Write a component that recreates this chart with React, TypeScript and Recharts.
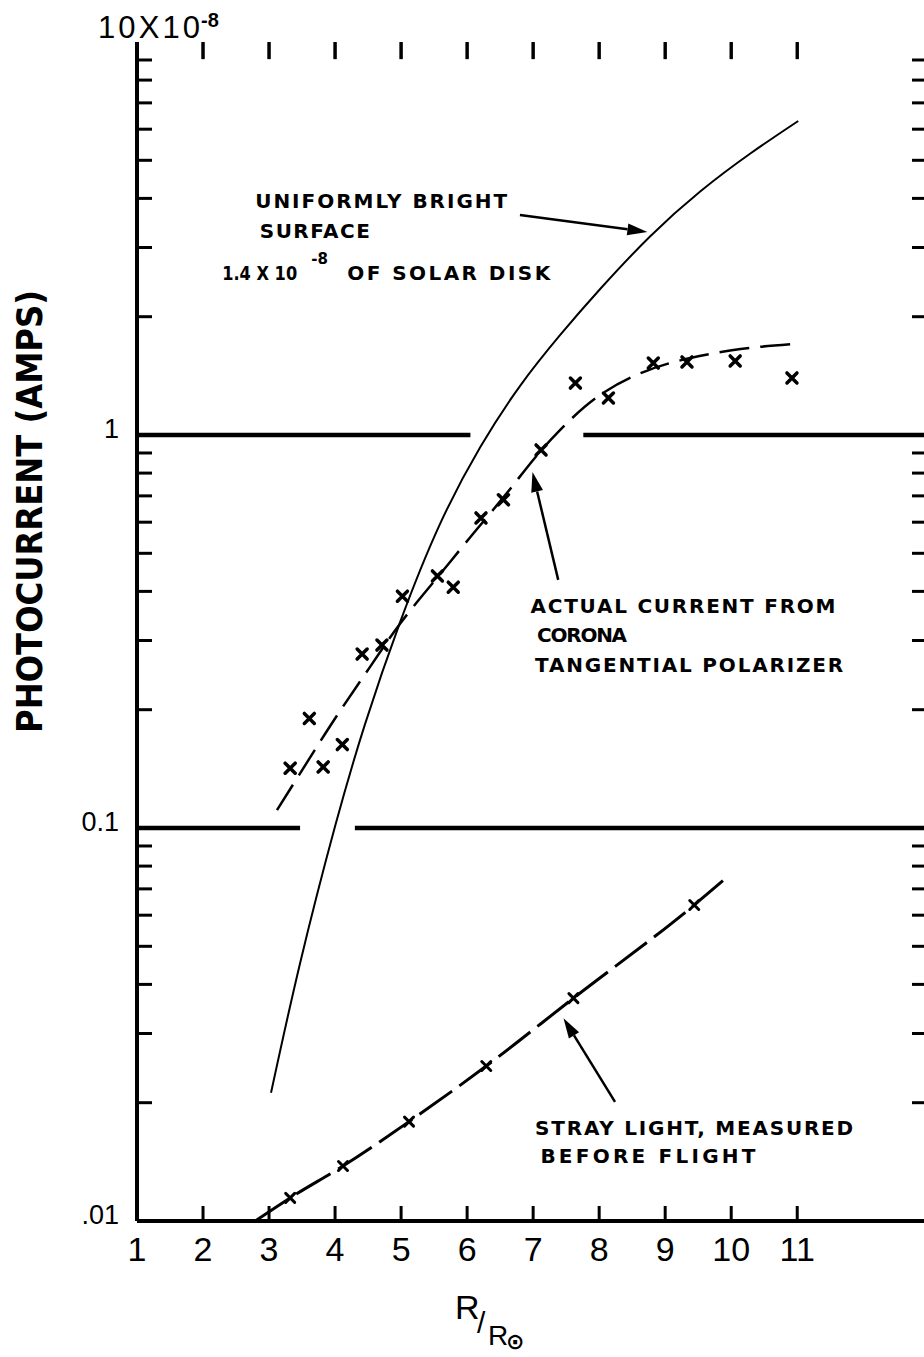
import React from 'react'
import {
  ComposedChart, Line, Scatter, XAxis, YAxis, ReferenceLine, ReferenceDot,
} from 'recharts'

const W = 924
const H = 1357
const M_TOP = 42
const M_BOTTOM = 76
const X_AXIS_H = 60
const PLOT_H = H - M_TOP - M_BOTTOM - X_AXIS_H
const X_MAX = 12.92
const Y_MIN = 0.01
const Y_MAX = 10
const Y_TOP = 9.99

const xTicks = [1, 2, 3, 4, 5, 6, 7, 8, 9, 10, 11]
const xInner = [2, 3, 4, 5, 6, 7, 8, 9, 10, 11]
const yTicks = [0.01, 0.1, 1, 10]
const yInner = [
  0.02, 0.03, 0.04, 0.05, 0.06, 0.07, 0.08, 0.09,
  0.2, 0.3, 0.4, 0.5, 0.6, 0.7, 0.8, 0.9,
  2, 3, 4, 5, 6, 7, 8, 9,
]

// uniformly bright surface, 1.4 x 10^-8 of solar disk
const brightR = [3.03, 3.47, 4.0, 4.455, 4.985, 5.59, 6.2, 6.8, 7.41, 8.015, 8.77, 9.53, 10.29, 11.015]
const brightI = [0.0212, 0.0453, 0.101, 0.184, 0.334, 0.594, 0.932, 1.332, 1.797, 2.352, 3.2, 4.165, 5.203, 6.295]

// actual current from corona, tangential polarizer (measured x's)
const coronaR = [3.32, 3.61, 3.82, 4.11, 4.41, 4.71, 5.02, 5.55, 5.79, 6.21, 6.55, 7.12, 7.64, 8.14, 8.82, 9.33, 10.06, 10.92]
const coronaI = [0.142, 0.19, 0.143, 0.163, 0.277, 0.292, 0.389, 0.438, 0.41, 0.615, 0.684, 0.916, 1.356, 1.242, 1.524, 1.534, 1.543, 1.397]

// dashed curve drawn through them
const coronaFitR = [3.12, 3.62, 4.08, 4.53, 4.99, 5.52, 6.05, 6.58, 7.0, 7.41, 7.97, 8.67, 9.38, 10.14, 10.94]
const coronaFitI = [0.111, 0.151, 0.199, 0.257, 0.332, 0.428, 0.55, 0.704, 0.864, 1.03, 1.249, 1.446, 1.57, 1.655, 1.704]

// stray light, measured before flight
const strayR = [3.32, 4.12, 5.12, 6.29, 7.61, 9.44]
const strayI = [0.01145, 0.0138, 0.0179, 0.0248, 0.0369, 0.0637]
const strayLineR = [2.79, 3.32, 4.12, 5.12, 6.29, 7.61, 9.44, 9.89]
const strayLineI = [0.01, 0.01145, 0.0138, 0.0179, 0.0248, 0.0369, 0.0637, 0.0738]

// heavy rules at 1 and 0.1, broken where the curves cross
const ruleLevels = [1, 0.1]
const ruleGaps = [[6.05, 7.76], [3.47, 4.3]]

const rows = (xs: number[], ys: number[]) => xs.map((x, i) => ({ x, y: ys[i] }))

const bright = rows(brightR, brightI)
const corona = rows(coronaR, coronaI)
const coronaFit = rows(coronaFitR, coronaFitI)
const stray = rows(strayR, strayI)
const strayLine = rows(strayLineR, strayLineI)

const arrows = [
  { from: [6.8, 3.63], to: [8.73, 3.285] },
  { from: [7.38, 0.428], to: [6.99, 0.805] },
  { from: [8.24, 0.0201], to: [7.46, 0.0328] },
]

const notes = [
  { r: 2.79, i: 3.78, text: 'UNIFORMLY BRIGHT', len: 252 },
  { r: 2.86, i: 3.17, text: 'SURFACE', len: 110 },
  { r: 6.96, i: 0.352, text: 'ACTUAL CURRENT FROM', len: 305 },
  { r: 7.06, i: 0.297, text: 'CORONA', len: 90 },
  { r: 7.03, i: 0.249, text: 'TANGENTIAL POLARIZER', len: 308 },
  { r: 7.03, i: 0.01655, text: 'STRAY LIGHT, MEASURED', len: 318 },
  { r: 7.11, i: 0.01405, text: 'BEFORE FLIGHT', len: 215 },
]

const LETTER = '"DejaVu Sans", sans-serif'
const DIGIT = '"Liberation Sans", Arial, sans-serif'

const NoTick = () => <g />

const cross = (s: number, sw: number) => (p: any) => {
  const { cx, cy } = p
  if (cx == null || cy == null) return <g />
  return (
    <path
      d={`M${cx - s},${cy - s}L${cx + s},${cy + s}M${cx + s},${cy - s}L${cx - s},${cy + s}`}
      stroke="#000"
      strokeWidth={sw}
      strokeLinecap="round"
    />
  )
}

const Arrow = (p: any) => {
  const { x1, y1, x2, y2 } = p
  const a = Math.atan2(y2 - y1, x2 - x1)
  const L = 20
  const w = 6
  const bx = x2 - L * Math.cos(a)
  const by = y2 - L * Math.sin(a)
  const s = Math.sin(a)
  const c = Math.cos(a)
  const pts = `${x2},${y2} ${bx + w * s},${by - w * c} ${bx - w * s},${by + w * c}`
  return (
    <g>
      <line x1={x1} y1={y1} x2={bx} y2={by} stroke="#000" strokeWidth={2.5} />
      <polygon points={pts} fill="#000" />
    </g>
  )
}

// tick pointing down from the top frame
const topTick = (p: any) => {
  const { cx, cy } = p
  if (cx == null || cy == null || Number.isNaN(cy)) return <g />
  return <line x1={cx} y1={cy} x2={cx} y2={cy + 17} stroke="#000" strokeWidth={3} />
}

// tick pointing up from the bottom frame, with its partner on the top frame
const bottomTick = (p: any) => {
  const { cx, cy } = p
  if (cx == null || cy == null || Number.isNaN(cy)) return <g />
  const top = cy - PLOT_H
  return (
    <g stroke="#000" strokeWidth={3}>
      <line x1={cx} y1={cy} x2={cx} y2={cy - 15} />
      <line x1={cx} y1={top} x2={cx} y2={top + 17} />
    </g>
  )
}

const YTick = (props: any) => {
  const { x, y, payload } = props
  const v = payload.value
  if (v === 10) {
    return (
      <g fontFamily={DIGIT} fill="#000">
        <text x={x - 21} y={y - 4} fontSize={31} textLength={102} lengthAdjust="spacing">10X10</text>
        <text x={x + 82} y={y - 15} fontSize={20} fontWeight="bold">-8</text>
      </g>
    )
  }
  const label = v === 1 ? '1' : v === 0.1 ? '0.1' : '.01'
  return (
    <text x={x} y={y} dy={-6} textAnchor="end" dominantBaseline="central" fontFamily={DIGIT} fontSize={27} fill="#000">
      {label}
    </text>
  )
}

const YTitle = (props: any) => {
  const vb = props.viewBox || { x: 8, y: 42, width: 129, height: 1179 }
  const x = vb.x + 34
  const y = vb.y + vb.height / 2 - 120
  return (
    <text
      x={x}
      y={y}
      transform={`rotate(-90, ${x}, ${y})`}
      textAnchor="middle"
      fontFamily={LETTER}
      fontWeight="bold"
      fontSize={36}
      textLength={443}
      lengthAdjust="spacingAndGlyphs"
      fill="#000"
    >
      PHOTOCURRENT (AMPS)
    </text>
  )
}

const XTitle = (props: any) => {
  const vb = props.viewBox || { x: 137, y: 1221, width: 787, height: 60 }
  return (
    <g fontFamily={DIGIT} fill="#000">
      <text x={vb.x + 318} y={vb.y + 98} fontSize={34}>R</text>
      <text x={vb.x + 340} y={vb.y + 112} fontSize={30}>/</text>
      <text x={vb.x + 351} y={vb.y + 124} fontSize={28}>R</text>
      <text x={vb.x + 369} y={vb.y + 128} fontSize={22} fontWeight="bold" fontFamily={LETTER}>⊙</text>
    </g>
  )
}

const note = (text: string, len: number) => (p: any) => (
  <text
    x={p.cx}
    y={p.cy}
    fontFamily={LETTER}
    fontWeight="bold"
    fontSize={20}
    textLength={len}
    lengthAdjust="spacing"
    fill="#000"
  >
    {text}
  </text>
)

const disk = (p: any) => (
  <g fontFamily={LETTER} fontWeight="bold" fill="#000">
    <text x={p.cx} y={p.cy} fontSize={20} textLength={75} lengthAdjust="spacingAndGlyphs">1.4 X 10</text>
    <text x={p.cx + 89} y={p.cy - 16} fontSize={15}>-8</text>
    <text x={p.cx + 125} y={p.cy} fontSize={20} textLength={203} lengthAdjust="spacing">OF SOLAR DISK</text>
  </g>
)

export default function App() {
  const segs: { y: number; a: number; b: number }[] = []
  ruleLevels.forEach((lv, k) => {
    segs.push({ y: lv, a: 1, b: ruleGaps[k][0] })
    segs.push({ y: lv, a: ruleGaps[k][1], b: X_MAX })
  })

  return (
    <div style={{ width: W, height: H, overflow: 'hidden' }}>
      <style>{'body{margin:0}'}</style>
      <ComposedChart width={W} height={H} margin={{ top: M_TOP, right: 0, left: 8, bottom: M_BOTTOM }}>
        <XAxis
          xAxisId="x"
          type="number"
          dataKey="x"
          domain={[1, X_MAX]}
          allowDataOverflow
          ticks={xTicks}
          interval={0}
          tickLine={false}
          tickSize={0}
          tickMargin={16}
          height={X_AXIS_H}
          axisLine={{ stroke: '#000', strokeWidth: 4 }}
          tick={{ fill: '#000', fontSize: 34, fontFamily: DIGIT }}
          label={<XTitle />}
        />
        <XAxis
          xAxisId="xt"
          type="number"
          orientation="top"
          mirror
          height={0}
          domain={[1, X_MAX]}
          allowDataOverflow
          ticks={xInner}
          interval={0}
          tick={NoTick}
          tickLine={false}
          axisLine={{ stroke: '#000', strokeWidth: 3.5 }}
        />
        <YAxis
          yAxisId="y"
          type="number"
          dataKey="y"
          scale="log"
          domain={[Y_MIN, Y_MAX]}
          allowDataOverflow
          ticks={yTicks}
          interval={0}
          width={129}
          tickLine={false}
          tickSize={0}
          tickMargin={18}
          axisLine={{ stroke: '#000', strokeWidth: 4 }}
          tick={<YTick />}
          label={<YTitle />}
        />
        <YAxis
          yAxisId="yl"
          type="number"
          orientation="left"
          mirror
          scale="log"
          domain={[Y_MIN, Y_MAX]}
          allowDataOverflow
          ticks={yInner}
          interval={0}
          tick={NoTick}
          tickSize={15}
          tickLine={{ stroke: '#000', strokeWidth: 3 }}
          axisLine={false}
        />
        <YAxis
          yAxisId="yr"
          type="number"
          orientation="right"
          mirror
          scale="log"
          domain={[Y_MIN, Y_MAX]}
          allowDataOverflow
          ticks={yInner}
          interval={0}
          tick={NoTick}
          tickSize={12}
          tickLine={{ stroke: '#000', strokeWidth: 3 }}
          axisLine={false}
        />

        {segs.map((s, i) => (
          <ReferenceLine
            key={`rule${i}`}
            xAxisId="x"
            yAxisId="y"
            segment={[{ x: s.a, y: s.y }, { x: s.b, y: s.y }]}
            stroke="#000"
            strokeWidth={4.5}
          />
        ))}

        <Line
          xAxisId="x"
          yAxisId="y"
          data={bright}
          dataKey="y"
          type="natural"
          stroke="#000"
          strokeWidth={2}
          dot={false}
          isAnimationActive={false}
        />
        <Line
          xAxisId="x"
          yAxisId="y"
          data={coronaFit}
          dataKey="y"
          type="natural"
          stroke="#000"
          strokeWidth={2.5}
          strokeDasharray="30 11"
          dot={false}
          isAnimationActive={false}
        />
        <Line
          xAxisId="x"
          yAxisId="y"
          data={strayLine}
          dataKey="y"
          type="monotone"
          stroke="#000"
          strokeWidth={3}
          strokeDasharray="40 9"
          dot={false}
          isAnimationActive={false}
        />
        <Scatter
          xAxisId="x"
          yAxisId="y"
          data={corona}
          dataKey="y"
          shape={cross(5, 3.5)}
          isAnimationActive={false}
        />
        <Scatter
          xAxisId="x"
          yAxisId="y"
          data={stray}
          dataKey="y"
          shape={cross(4.5, 3)}
          isAnimationActive={false}
        />

        {arrows.map((a, i) => (
          <ReferenceLine
            key={`arrow${i}`}
            xAxisId="x"
            yAxisId="y"
            segment={[{ x: a.from[0], y: a.from[1] }, { x: a.to[0], y: a.to[1] }]}
            shape={Arrow}
          />
        ))}

        {notes.map((n, i) => (
          <ReferenceDot
            key={`note${i}`}
            xAxisId="x"
            yAxisId="y"
            x={n.r}
            y={n.i}
            r={0}
            shape={note(n.text, n.len)}
          />
        ))}
        <ReferenceDot xAxisId="x" yAxisId="y" x={2.29} y={2.48} r={0} shape={disk} />

        {xInner.map((v) => (
          <ReferenceDot
            key={`top${v}`}
            xAxisId="x"
            yAxisId="y"
            x={v}
            y={Y_TOP}
            r={0}
            ifOverflow="visible"
            shape={topTick}
          />
        ))}
        {xInner.map((v) => (
          <ReferenceDot
            key={`bot${v}`}
            xAxisId="x"
            yAxisId="y"
            x={v}
            y={Y_MIN}
            r={0}
            ifOverflow="visible"
            shape={bottomTick}
          />
        ))}
      </ComposedChart>
    </div>
  )
}
